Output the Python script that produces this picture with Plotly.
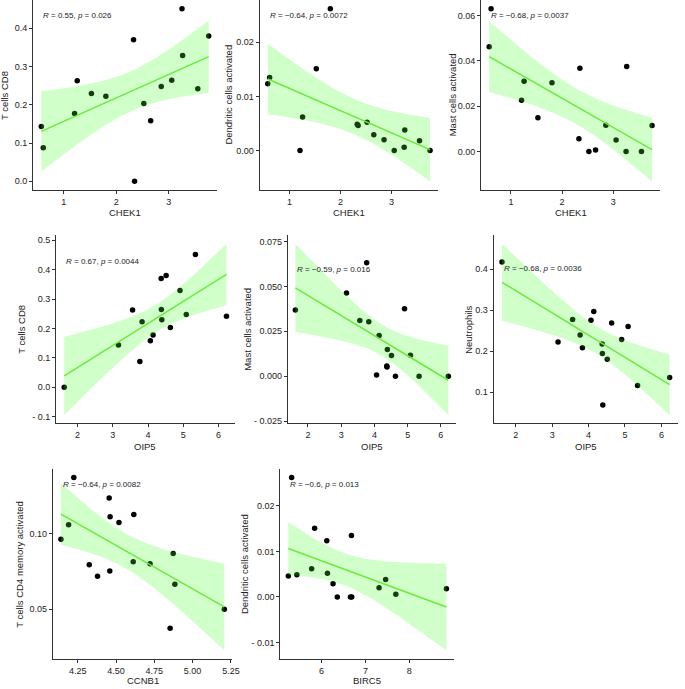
import numpy as np
import plotly.graph_objects as go

# ---------------- data ----------------
# samples shared by panels 1-6 and 8 (same order in every array)
CHEK1 = [0.574, 0.611, 1.207, 1.257, 1.527, 1.802, 2.329, 2.348,
         2.524, 2.655, 2.856, 3.056, 3.251, 3.263, 3.552, 3.759]
OIP5 = [3.160, 3.767, 4.142, 3.560, 4.390, 3.830, 4.372, 1.620,
        4.633, 4.065, 5.085, 4.378, 5.345, 4.907, 6.226, 4.513]
BIRC5 = [6.120, 6.682, 6.360, 5.775, 5.843, 5.318, 5.438, 5.243,
         6.135, 6.262, 7.311, 6.659, 7.693, 7.461, 8.846, 6.689]
T_CELLS_CD8 = [0.1435, 0.0878, 0.1774, 0.2626, 0.2296, 0.2226, 0.3700, 0.0000,
               0.2035, 0.1580, 0.2478, 0.2643, 0.4513, 0.3287, 0.2417, 0.3800]
DC_ACTIVATED = [0.01233, 0.0135, 0.0, 0.0062, 0.0151, 0.0262, 0.00485, 0.0046,
                0.0052, 0.0029, 0.0020, 0.0, 0.0006, 0.0038, 0.0018, 0.0]
MAST_ACTIVATED = [0.0463, 0.0631, 0.02265, 0.0310, 0.01485, 0.0303, 0.0056, 0.0368,
                  0.0, 0.0006, 0.0116, 0.0051, 0.0, 0.0375, 0.0, 0.0115]
NEUTROPHILS = [0.2223, 0.2392, 0.2971, 0.2770, 0.0686, 0.2086, 0.2175, 0.4178,
               0.2689, 0.2754, 0.2601, 0.1941, 0.1161, 0.2287, 0.1354, 0.1805]
# panel 7
CCNB1 = [4.140, 4.190, 4.224, 4.325, 4.379, 4.455, 4.461, 4.459,
         4.519, 4.612, 4.616, 4.722, 4.853, 4.873, 4.884, 5.207]
T_CD4_MEM_ACT = [0.0963, 0.1059, 0.1372, 0.0795, 0.0718, 0.1236, 0.1112, 0.0753,
                 0.1075, 0.0815, 0.1128, 0.0802, 0.0374, 0.0870, 0.0665, 0.0500]

STAT_LABELS = [
    "<i>R</i> = 0.55, <i>p</i> = 0.026",
    "<i>R</i> = \u22120.64, <i>p</i> = 0.0072",
    "<i>R</i> = \u22120.68, <i>p</i> = 0.0037",
    "<i>R</i> = 0.67, <i>p</i> = 0.0044",
    "<i>R</i> = \u22120.59, <i>p</i> = 0.016",
    "<i>R</i> = \u22120.68, <i>p</i> = 0.0036",
    "<i>R</i> = \u22120.64, <i>p</i> = 0.0082",
    "<i>R</i> = \u22120.6, <i>p</i> = 0.013",
]
X_TITLES = ["CHEK1", "CHEK1", "CHEK1", "OIP5", "OIP5", "OIP5", "CCNB1", "BIRC5"]
Y_TITLES = ["T cells CD8", "Dendritic cells activated", "Mast cells activated",
            "T cells CD8", "Mast cells activated", "Neutrophils",
            "T cells CD4 memory activated", "Dendritic cells activated"]

X_TICKS = [[1, 2, 3], [1, 2, 3], [1, 2, 3],
           [2, 3, 4, 5, 6], [2, 3, 4, 5, 6], [2, 3, 4, 5, 6],
           [4.25, 4.5, 4.75, 5.0, 5.25], [6, 7, 8]]
X_TICKTEXT = [["1", "2", "3"], ["1", "2", "3"], ["1", "2", "3"],
              ["2", "3", "4", "5", "6"], ["2", "3", "4", "5", "6"], ["2", "3", "4", "5", "6"],
              ["4.25", "4.50", "4.75", "5.00", "5.25"], ["6", "7", "8"]]
Y_TICKS = [[0.0, 0.1, 0.2, 0.3, 0.4], [0.0, 0.01, 0.02], [0.0, 0.02, 0.04, 0.06],
           [-0.1, 0.0, 0.1, 0.2, 0.3, 0.4, 0.5], [-0.025, 0.0, 0.025, 0.05, 0.075],
           [0.1, 0.2, 0.3, 0.4], [0.05, 0.10], [-0.01, 0.0, 0.01, 0.02]]
Y_TICKTEXT = [["0.0", "0.1", "0.2", "0.3", "0.4"], ["0.00", "0.01", "0.02"],
              ["0.00", "0.02", "0.04", "0.06"],
              ["- 0.1", "0.0", "0.1", "0.2", "0.3", "0.4", "0.5"],
              ["- 0.025", "0.000", "0.025", "0.050", "0.075"],
              ["0.1", "0.2", "0.3", "0.4"], ["0.05", "0.10"],
              ["- 0.01", "0.00", "0.01", "0.02"]]

PANEL_DATA = [(CHEK1, T_CELLS_CD8), (CHEK1, DC_ACTIVATED), (CHEK1, MAST_ACTIVATED),
              (OIP5, T_CELLS_CD8), (OIP5, MAST_ACTIVATED), (OIP5, NEUTROPHILS),
              (CCNB1, T_CD4_MEM_ACT), (BIRC5, DC_ACTIVATED)]

# ---------------- layout (pixels) ----------------
W, H = 685, 689
# left, right, top, bottom of each plotting area
BOXES = [(33.3, 219.3, 0.0, 190.8), (262.3, 442.7, 0.0, 190.8), (486.0, 667.0, 0.0, 190.8),
         (56.7, 237.0, 236.3, 425.3), (290.7, 460.7, 236.3, 425.3), (498.7, 685.0, 236.3, 425.3),
         (53.3, 234.9, 471.0, 661.7), (283.3, 459.0, 471.0, 661.7)]
YTITLE_X = [5.0, 231.0, 458.0, 21.7, 250.0, 473.3, 20.0, 247.7]
XTITLE_Y = [213.5, 213.5, 213.5, 448.0, 448.0, 448.0, 683.5, 683.5]

FONT = "Liberation Sans, Arial, sans-serif"
BAND = "rgba(70,255,40,0.25)"
LINE = "rgb(105,235,60)"
AXIS = "#333333"
T975_DF14 = 2.1448


def lm_band(x, y, ngrid=80):
    x = np.asarray(x, float)
    y = np.asarray(y, float)
    n = len(x)
    b, a = np.polyfit(x, y, 1)
    resid = y - (a + b * x)
    s = np.sqrt(np.sum(resid ** 2) / (n - 2))
    xm = x.mean()
    sxx = np.sum((x - xm) ** 2)
    xg = np.linspace(x.min(), x.max(), ngrid)
    yg = a + b * xg
    se = s * np.sqrt(1.0 / n + (xg - xm) ** 2 / sxx)
    return xg, yg, yg - T975_DF14 * se, yg + T975_DF14 * se


fig = go.Figure()
annotations = []
for i, (xs, ys) in enumerate(PANEL_DATA):
    k = i + 1
    xa = "x" if k == 1 else f"x{k}"
    ya = "y" if k == 1 else f"y{k}"
    xg, yg, lo, hi = lm_band(xs, ys)

    fig.add_trace(go.Scatter(x=xs, y=ys, mode="markers", xaxis=xa, yaxis=ya,
                             marker=dict(color="black", size=5.5), showlegend=False,
                             hoverinfo="skip"))
    fig.add_trace(go.Scatter(x=np.concatenate([xg, xg[::-1]]),
                             y=np.concatenate([hi, lo[::-1]]),
                             mode="lines", fill="toself", fillcolor=BAND,
                             line=dict(width=0), xaxis=xa, yaxis=ya,
                             showlegend=False, hoverinfo="skip"))
    fig.add_trace(go.Scatter(x=xg, y=yg, mode="lines", xaxis=xa, yaxis=ya,
                             line=dict(color=LINE, width=1.5), showlegend=False,
                             hoverinfo="skip"))

    # ranges: ggplot-style 5% expansion of points + band
    xmin, xmax = min(xs), max(xs)
    ymin = min(min(ys), lo.min())
    ymax = max(max(ys), hi.max())
    dx = 0.05 * (xmax - xmin)
    dy = 0.05 * (ymax - ymin)

    l, r, t, btm = BOXES[i]
    axis_common = dict(showline=True, linecolor=AXIS, linewidth=1, ticks="outside",
                       ticklen=3, tickcolor=AXIS, tickwidth=1, showgrid=False,
                       zeroline=False, tickfont=dict(family=FONT, size=9, color="#222"))
    fig.layout[f"xaxis{'' if k == 1 else k}"] = dict(
        domain=[l / W, r / W], anchor=ya, range=[xmin - dx, xmax + dx],
        tickmode="array", tickvals=X_TICKS[i], ticktext=X_TICKTEXT[i], **axis_common)
    fig.layout[f"yaxis{'' if k == 1 else k}"] = dict(
        domain=[1 - btm / H, 1 - t / H], anchor=xa, range=[ymin - dy, ymax + dy],
        tickmode="array", tickvals=Y_TICKS[i], ticktext=Y_TICKTEXT[i], **axis_common)

    # correlation label (top-left, at min x / max y)
    annotations.append(dict(x=xmin, y=max(ys), xref=xa, yref=ya, text=STAT_LABELS[i],
                            showarrow=False, xanchor="left", yanchor="top",
                            font=dict(family=FONT, size=8, color="#222")))
    # axis titles
    annotations.append(dict(x=(l + r) / 2 / W, y=1 - XTITLE_Y[i] / H, xref="paper",
                            yref="paper", text=X_TITLES[i], showarrow=False,
                            xanchor="center", yanchor="middle",
                            font=dict(family=FONT, size=9.5, color="#222")))
    annotations.append(dict(x=YTITLE_X[i] / W, y=1 - (t + btm) / 2 / H, xref="paper",
                            yref="paper", text=Y_TITLES[i], showarrow=False,
                            textangle=-90, xanchor="center", yanchor="middle",
                            font=dict(family=FONT, size=9.5, color="#222")))

fig.update_layout(width=W, height=H, margin=dict(l=0, r=0, t=0, b=0),
                  paper_bgcolor="white", plot_bgcolor="white",
                  annotations=annotations, showlegend=False)

fig.write_html("out.html", config={"displayModeBar": False},
               post_script="document.body.style.margin='0';document.body.style.padding='0';")
